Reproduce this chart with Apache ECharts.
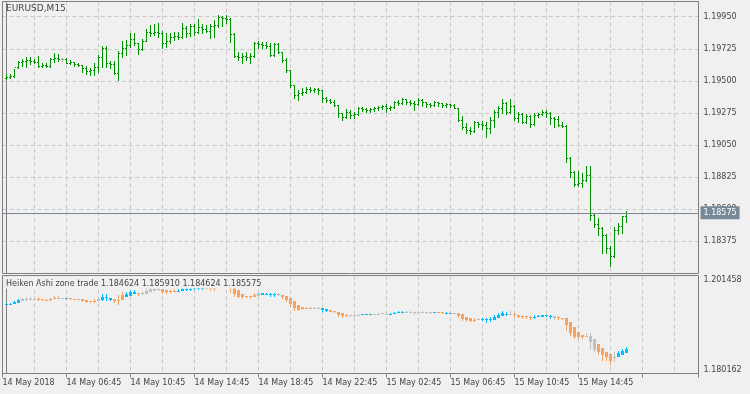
<!DOCTYPE html>
<html>
<head>
<meta charset="utf-8">
<title>EURUSD,M15</title>
<script src="https://cdn.jsdelivr.net/npm/echarts@6/dist/echarts.min.js"></script>
<style>
  html, body { margin: 0; padding: 0; background: #f0f0f0; }
  #chart { width: 750px; height: 394px; }
</style>
</head>
<body>
<div id="chart"></div>
<script>
// EURUSD M15 bars, 14 May 03:00 .. 15 May 17:45
const openPrices = [
  1.19522, 1.19529, 1.19536, 1.19600, 1.19635, 1.19642, 1.19649, 1.19642, 1.19635, 1.19607,
  1.19614, 1.19607, 1.19656, 1.19663, 1.19656, 1.19656, 1.19628, 1.19635, 1.19621, 1.19614,
  1.19593, 1.19571, 1.19579, 1.19600, 1.19670, 1.19733, 1.19628, 1.19621, 1.19557, 1.19698,
  1.19733, 1.19754, 1.19796, 1.19768, 1.19726, 1.19782, 1.19845, 1.19838, 1.19845, 1.19838,
  1.19768, 1.19782, 1.19810, 1.19817, 1.19810, 1.19873, 1.19838, 1.19887, 1.19845, 1.19880,
  1.19866, 1.19852, 1.19887, 1.19894, 1.19950, 1.19943, 1.19936, 1.19831, 1.19677, 1.19670,
  1.19677, 1.19670, 1.19677, 1.19768, 1.19761, 1.19754, 1.19747, 1.19684, 1.19761, 1.19705,
  1.19649, 1.19579, 1.19473, 1.19403, 1.19417, 1.19424, 1.19445, 1.19438, 1.19445, 1.19438,
  1.19382, 1.19368, 1.19354, 1.19333, 1.19277, 1.19249, 1.19284, 1.19263, 1.19270, 1.19312,
  1.19305, 1.19298, 1.19305, 1.19312, 1.19319, 1.19326, 1.19312, 1.19319, 1.19354, 1.19347,
  1.19375, 1.19354, 1.19347, 1.19340, 1.19368, 1.19354, 1.19340, 1.19333, 1.19354, 1.19347,
  1.19333, 1.19340, 1.19333, 1.19312, 1.19228, 1.19179, 1.19158, 1.19151, 1.19214, 1.19200,
  1.19193, 1.19172, 1.19228, 1.19284, 1.19312, 1.19347, 1.19284, 1.19326, 1.19242, 1.19270,
  1.19214, 1.19256, 1.19200, 1.19263, 1.19270, 1.19284, 1.19277, 1.19242, 1.19235, 1.19193,
  1.19186, 1.18962, 1.18863, 1.18779, 1.18786, 1.18807, 1.18842, 1.18562, 1.18499, 1.18471,
  1.18422, 1.18331, 1.18275, 1.18457, 1.18485, 1.18551
];
const highPrices = [
  1.19550, 1.19550, 1.19586, 1.19642, 1.19656, 1.19670, 1.19670, 1.19656, 1.19677, 1.19628,
  1.19628, 1.19663, 1.19698, 1.19691, 1.19663, 1.19663, 1.19649, 1.19635, 1.19628, 1.19614,
  1.19607, 1.19593, 1.19628, 1.19684, 1.19747, 1.19747, 1.19642, 1.19642, 1.19712, 1.19782,
  1.19789, 1.19838, 1.19838, 1.19768, 1.19796, 1.19866, 1.19894, 1.19901, 1.19908, 1.19852,
  1.19838, 1.19838, 1.19845, 1.19845, 1.19908, 1.19887, 1.19901, 1.19901, 1.19936, 1.19901,
  1.19894, 1.19901, 1.19929, 1.19964, 1.19957, 1.19964, 1.19943, 1.19838, 1.19705, 1.19698,
  1.19705, 1.19698, 1.19775, 1.19782, 1.19775, 1.19775, 1.19768, 1.19768, 1.19768, 1.19705,
  1.19663, 1.19579, 1.19473, 1.19438, 1.19452, 1.19459, 1.19459, 1.19452, 1.19452, 1.19438,
  1.19389, 1.19375, 1.19368, 1.19333, 1.19277, 1.19305, 1.19298, 1.19284, 1.19319, 1.19319,
  1.19312, 1.19312, 1.19319, 1.19326, 1.19333, 1.19340, 1.19326, 1.19361, 1.19368, 1.19382,
  1.19375, 1.19368, 1.19361, 1.19382, 1.19375, 1.19354, 1.19347, 1.19361, 1.19354, 1.19347,
  1.19347, 1.19340, 1.19340, 1.19312, 1.19256, 1.19207, 1.19179, 1.19221, 1.19214, 1.19221,
  1.19214, 1.19249, 1.19298, 1.19326, 1.19375, 1.19354, 1.19375, 1.19333, 1.19284, 1.19277,
  1.19270, 1.19263, 1.19277, 1.19277, 1.19298, 1.19298, 1.19284, 1.19249, 1.19256, 1.19214,
  1.19193, 1.18969, 1.18870, 1.18870, 1.18856, 1.18906, 1.18906, 1.18576, 1.18541, 1.18478,
  1.18429, 1.18345, 1.18478, 1.18506, 1.18555, 1.18591
];
const lowPrices = [
  1.19515, 1.19522, 1.19529, 1.19593, 1.19607, 1.19600, 1.19621, 1.19628, 1.19600, 1.19600,
  1.19600, 1.19600, 1.19635, 1.19642, 1.19642, 1.19628, 1.19621, 1.19607, 1.19607, 1.19564,
  1.19550, 1.19543, 1.19543, 1.19564, 1.19600, 1.19600, 1.19593, 1.19550, 1.19508, 1.19670,
  1.19684, 1.19740, 1.19754, 1.19691, 1.19719, 1.19782, 1.19817, 1.19824, 1.19810, 1.19733,
  1.19740, 1.19768, 1.19789, 1.19796, 1.19803, 1.19810, 1.19817, 1.19824, 1.19838, 1.19838,
  1.19845, 1.19803, 1.19810, 1.19880, 1.19887, 1.19908, 1.19775, 1.19670, 1.19649, 1.19628,
  1.19649, 1.19628, 1.19670, 1.19733, 1.19733, 1.19733, 1.19677, 1.19677, 1.19698, 1.19635,
  1.19564, 1.19459, 1.19382, 1.19368, 1.19403, 1.19417, 1.19424, 1.19424, 1.19410, 1.19354,
  1.19354, 1.19347, 1.19326, 1.19249, 1.19228, 1.19242, 1.19242, 1.19242, 1.19263, 1.19291,
  1.19284, 1.19284, 1.19291, 1.19298, 1.19305, 1.19284, 1.19298, 1.19312, 1.19333, 1.19340,
  1.19340, 1.19333, 1.19298, 1.19333, 1.19326, 1.19319, 1.19319, 1.19326, 1.19326, 1.19319,
  1.19319, 1.19319, 1.19312, 1.19221, 1.19165, 1.19137, 1.19130, 1.19144, 1.19179, 1.19165,
  1.19109, 1.19137, 1.19179, 1.19249, 1.19277, 1.19270, 1.19277, 1.19228, 1.19214, 1.19207,
  1.19207, 1.19179, 1.19193, 1.19249, 1.19263, 1.19249, 1.19200, 1.19179, 1.19186, 1.19179,
  1.18934, 1.18828, 1.18765, 1.18765, 1.18758, 1.18800, 1.18527, 1.18478, 1.18422, 1.18296,
  1.18296, 1.18201, 1.18268, 1.18429, 1.18436, 1.18513
];
const closePrices = [
  1.19529, 1.19536, 1.19600, 1.19635, 1.19642, 1.19649, 1.19642, 1.19635, 1.19607, 1.19614,
  1.19607, 1.19656, 1.19663, 1.19656, 1.19656, 1.19628, 1.19635, 1.19621, 1.19614, 1.19593,
  1.19571, 1.19579, 1.19600, 1.19670, 1.19733, 1.19628, 1.19621, 1.19557, 1.19698, 1.19733,
  1.19754, 1.19796, 1.19768, 1.19726, 1.19782, 1.19845, 1.19838, 1.19845, 1.19838, 1.19768,
  1.19782, 1.19810, 1.19817, 1.19810, 1.19873, 1.19838, 1.19887, 1.19845, 1.19880, 1.19866,
  1.19852, 1.19887, 1.19894, 1.19950, 1.19943, 1.19936, 1.19831, 1.19677, 1.19670, 1.19677,
  1.19670, 1.19677, 1.19768, 1.19761, 1.19754, 1.19747, 1.19684, 1.19761, 1.19705, 1.19649,
  1.19579, 1.19473, 1.19403, 1.19417, 1.19424, 1.19445, 1.19438, 1.19445, 1.19438, 1.19382,
  1.19368, 1.19354, 1.19333, 1.19277, 1.19249, 1.19284, 1.19263, 1.19270, 1.19312, 1.19305,
  1.19298, 1.19305, 1.19312, 1.19319, 1.19326, 1.19312, 1.19319, 1.19354, 1.19347, 1.19375,
  1.19354, 1.19347, 1.19340, 1.19368, 1.19354, 1.19340, 1.19333, 1.19354, 1.19347, 1.19333,
  1.19340, 1.19333, 1.19312, 1.19228, 1.19179, 1.19158, 1.19151, 1.19214, 1.19200, 1.19193,
  1.19172, 1.19228, 1.19284, 1.19312, 1.19347, 1.19284, 1.19326, 1.19242, 1.19270, 1.19214,
  1.19256, 1.19200, 1.19263, 1.19270, 1.19284, 1.19277, 1.19242, 1.19235, 1.19193, 1.19186,
  1.18962, 1.18863, 1.18779, 1.18786, 1.18807, 1.18842, 1.18562, 1.18499, 1.18471, 1.18422,
  1.18331, 1.18275, 1.18457, 1.18485, 1.18551, 1.18575
];
// zone trade colour of each Heiken Ashi bar: b = up zone, o = down zone, g = neutral
const zoneCodes = (
  'bbbbggggoo' + 'oooggboooo' + 'ooogbbbooo' + 'bbbogggggo' + 'ooobbbbbbb' +
  'ooogggoooo' + 'ooogbbbbgo' + 'oooooooggb' + 'booooogggb' + 'bbggggbbbb' +
  'gggggggboo' + 'bboooooogb' + 'bbbbbbgooo' + 'oobbbbbgoo' + 'ooooogggoo' + 'oogbbb'
).split('');
const timeLabels = [
  '14 May 2018', '14 May 06:45', '14 May 10:45', '14 May 14:45', '14 May 18:45',
  '14 May 22:45', '15 May 02:45', '15 May 06:45', '15 May 10:45', '15 May 14:45'
];
const priceMin = 1.18150, priceMax = 1.200565, priceStep = 0.00225;
const haMin = 1.180162, haMax = 1.201458;
const haLegend = 'Heiken Ashi zone trade 1.184624 1.185910 1.184624 1.185575';

const FONT = 'DejaVu Sans';
const TEXT = '#454545';
const BORDER = '#7f7f7f';
const GRIDLINE = '#c8c8c8';
const BAR_UP = '#008f00';
const BAR_DOJI = '#a8a8a8';
const PRICE_LINE = '#778899';
const zoneColor = { b: '#00bfff', o: '#f4a460', g: '#c0c0c0' };

// Heiken Ashi from the bars above
const haOpen = [], haClose = [], haHigh = [], haLow = [];
for (let i = 0; i < closePrices.length; i++) {
  const c = (openPrices[i] + highPrices[i] + lowPrices[i] + closePrices[i]) / 4;
  const o = i === 0 ? (openPrices[0] + closePrices[0]) / 2 : (haOpen[i - 1] + haClose[i - 1]) / 2;
  haOpen.push(o);
  haClose.push(c);
  haHigh.push(Math.max(highPrices[i], o, c));
  haLow.push(Math.min(lowPrices[i], o, c));
}

const barData = closePrices.map((c, i) => [i, openPrices[i], highPrices[i], lowPrices[i], c]);
const haData = haClose.map((c, i) => [i, haOpen[i], haHigh[i], haLow[i], c]);
const lastPrice = closePrices[closePrices.length - 1];

function renderBar(params, api) {
  const i = api.value(0);
  const o = api.value(1), c = api.value(4);
  const hi = api.coord([i, api.value(2)]);
  const lo = api.coord([i, api.value(3)]);
  const yo = Math.round(api.coord([i, o])[1]);
  const yc = Math.round(api.coord([i, c])[1]);
  const x = Math.floor(hi[0]);
  const color = o === c ? BAR_DOJI : BAR_UP;
  const top = Math.round(hi[1]);
  const bottom = Math.round(lo[1]);
  return {
    type: 'group',
    children: [
      { type: 'rect', shape: { x: x, y: top, width: 1, height: Math.max(1, bottom - top + 1) }, style: { fill: color } },
      { type: 'rect', shape: { x: x - 1, y: yo, width: 1, height: 1 }, style: { fill: color } },
      { type: 'rect', shape: { x: x + 1, y: yc, width: 1, height: 1 }, style: { fill: color } }
    ]
  };
}

function renderHA(params, api) {
  const i = api.value(0);
  const po = api.coord([i, api.value(1)]);
  const ph = api.coord([i, api.value(2)]);
  const pl = api.coord([i, api.value(3)]);
  const pc = api.coord([i, api.value(4)]);
  const x = Math.floor(po[0]);
  const color = zoneColor[zoneCodes[i]];
  const y1 = Math.round(Math.min(po[1], pc[1]));
  const y2 = Math.round(Math.max(po[1], pc[1]));
  const top = Math.round(ph[1]);
  const bottom = Math.round(pl[1]);
  return {
    type: 'group',
    children: [
      { type: 'rect', shape: { x: x, y: top, width: 1, height: Math.max(1, bottom - top) }, style: { fill: color } },
      { type: 'rect', shape: { x: x - 1, y: y1, width: 3, height: Math.max(1, y2 - y1) }, style: { fill: color } }
    ]
  };
}

const chart = echarts.init(document.getElementById('chart'), null, { renderer: 'canvas' });

const splitX = { show: true, lineStyle: { color: GRIDLINE, type: [4, 3], width: 1 } };
const label = { fontFamily: FONT, fontSize: 8, color: TEXT };

chart.setOption({
  animation: false,
  backgroundColor: '#f0f0f0',
  title: [
    { text: 'EURUSD,M15', left: 6, top: 3, padding: 0, textStyle: { ...label, fontSize: 9, fontWeight: 'normal', lineHeight: 12 }, z: 6 },
    {
      text: haLegend, left: 3, top: 276.5, padding: [2, 3, 0, 3], backgroundColor: '#f0f0f0',
      textStyle: { ...label, fontWeight: 'normal', lineHeight: 10 }, z: 6
    }
  ],
  grid: [
    { left: 2.5, right: 51.5, top: 1.5, height: 272, show: true, backgroundColor: 'transparent', borderColor: BORDER, borderWidth: 1, z: 1, outerBoundsMode: 'none' },
    { left: 2.5, right: 51.5, top: 275.5, height: 98, show: true, backgroundColor: 'transparent', borderColor: BORDER, borderWidth: 1, z: 1, outerBoundsMode: 'none' }
  ],
  xAxis: [
    { gridIndex: 0, type: 'value', min: -1, max: 173, interval: 8, axisLine: { show: false }, axisTick: { show: false }, axisLabel: { show: false }, splitLine: splitX, z: 0 },
    { gridIndex: 1, type: 'value', min: -1, max: 173, interval: 8, axisLine: { show: false }, axisTick: { show: false }, axisLabel: { show: false }, splitLine: splitX, z: 0 },
    {
      gridIndex: 1, type: 'value', position: 'bottom', min: -1, max: 173, interval: 16,
      axisLine: { show: true, lineStyle: { color: BORDER, width: 1 } },
      axisTick: { show: true, length: 4, lineStyle: { color: BORDER, width: 1 } },
      splitLine: { show: false },
      axisLabel: {
        ...label, align: 'left', margin: 5, showMinLabel: true, showMaxLabel: true,
        formatter: v => {
          const k = Math.round((v + 1) / 16);
          return Math.abs(v + 1 - 16 * k) < 1e-6 && k < timeLabels.length ? timeLabels[k] : '';
        }
      },
      z: 0
    }
  ],
  yAxis: [
    {
      gridIndex: 0, type: 'value', position: 'right', min: priceMin, max: priceMax, interval: priceStep, scale: true,
      axisLine: { show: true, lineStyle: { color: BORDER, width: 1 } },
      axisTick: { show: false },
      axisLabel: { ...label, margin: 5, showMinLabel: false, showMaxLabel: false, formatter: v => v.toFixed(5) },
      splitLine: { show: true, lineStyle: { color: GRIDLINE, type: [4, 3], width: 1 } },
      z: 0
    },
    {
      gridIndex: 1, type: 'value', position: 'right', min: haMin, max: haMax, interval: haMax - haMin, scale: true,
      axisLine: { show: true, lineStyle: { color: BORDER, width: 1 } },
      axisTick: { show: false },
      axisLabel: {
        ...label, margin: 5, showMinLabel: true, showMaxLabel: true,
        verticalAlignMinLabel: 'bottom', verticalAlignMaxLabel: 'top',
        formatter: v => v.toFixed(6)
      },
      splitLine: { show: false },
      z: 0
    }
  ],
  series: [
    {
      name: 'Bid', type: 'line', xAxisIndex: 0, yAxisIndex: 0, z: 3, data: [], silent: true,
      markLine: {
        silent: true, symbol: 'none', animation: false, precision: 5,
        lineStyle: { color: PRICE_LINE, width: 1, type: 'solid' },
        label: {
          position: 'end', distance: 2, fontFamily: FONT, fontSize: 8, color: '#ffffff',
          backgroundColor: PRICE_LINE, padding: [3, 3, 2, 3], formatter: () => lastPrice.toFixed(5)
        },
        emphasis: { disabled: true },
        data: [{ yAxis: lastPrice }]
      }
    },
    {
      name: 'EURUSD,M15', type: 'custom', xAxisIndex: 0, yAxisIndex: 0, z: 2,
      renderItem: renderBar, data: barData, encode: { x: 0, y: [1, 2, 3, 4] }, silent: true
    },
    {
      name: 'Heiken Ashi zone trade', type: 'custom', xAxisIndex: 1, yAxisIndex: 1, z: 2,
      renderItem: renderHA, data: haData, encode: { x: 0, y: [1, 2, 3, 4] }, silent: true
    }
  ]
});
</script>
</body>
</html>
